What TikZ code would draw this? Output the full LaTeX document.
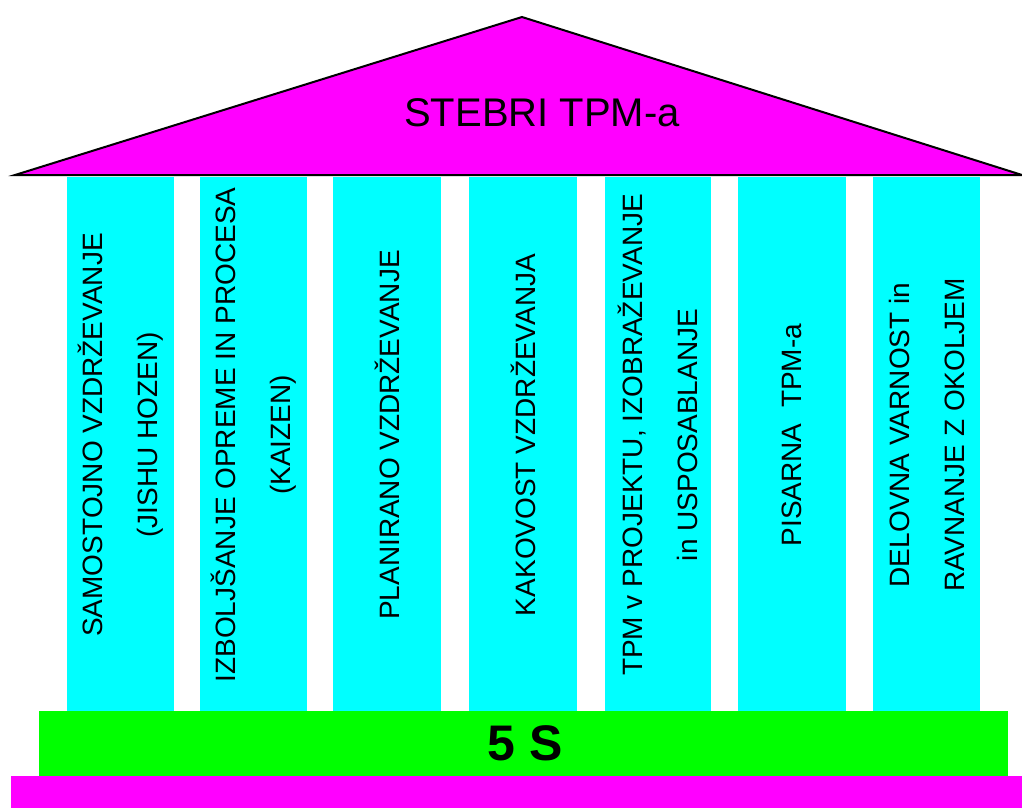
\documentclass[tikz,border=0pt]{standalone}
\usepackage{fontspec}
\setmainfont{Liberation Sans}
\definecolor{roofmag}{RGB}{255,0,255}
\definecolor{pillarcyan}{RGB}{0,255,255}
\definecolor{slabgreen}{RGB}{0,255,0}
\begin{document}
\begin{tikzpicture}[x=1pt,y=-1pt,
  pillar/.style={fill=pillarcyan, draw=none, inner sep=0pt, outer sep=0pt,
                 minimum width=#1, minimum height=534pt},
  pillar/.default=107pt,
  ptext/.style={rotate=90, align=center, inner sep=0pt,
                font=\fontsize{28}{55}\selectfont},
  slab/.style={draw=none, inner sep=0pt, outer sep=0pt}]
  \useasboundingbox (0,0) rectangle (1022,808);

  % roof
  \coordinate (rl) at (15,175);
  \coordinate (ra) at (522,17);
  \coordinate (rr) at (1022,175);
  \filldraw[fill=roofmag, draw=black, line width=2pt, line join=miter]
    (rl) -- (ra) -- (rr) -- cycle;
  \node[font=\fontsize{40}{48}\selectfont] (title) at (542,113) {STEBRI TPM-a};

  % pillars
  \node[pillar] (p1) at (120.5,444) {};
  \node[pillar] (p2) at (253.5,444) {};
  \node[pillar=108pt] (p3) at (387,444) {};
  \node[pillar=108pt] (p4) at (523,444) {};
  \node[pillar=106pt] (p5) at (658,444) {};
  \node[pillar=108pt] (p6) at (792,444) {};
  \node[pillar] (p7) at (926.5,444) {};

  \node[ptext] (t1) at (120.5,435) {SAMOSTOJNO VZDRŽEVANJE\\(JISHU HOZEN)};
  \node[ptext] (t2) at (253.5,435) {IZBOLJŠANJE OPREME IN PROCESA\\(KAIZEN)};
  \node[ptext] (t3) at (387,435) {PLANIRANO VZDRŽEVANJE};
  \node[ptext] (t4) at (523,435) {KAKOVOST VZDRŽEVANJA};
  \node[ptext] (t5) at (658,435) {TPM v PROJEKTU, IZOBRAŽEVANJE\\in USPOSABLANJE};
  \node[ptext] (t6) at (792,435) {PISARNA\ \ TPM-a};
  \node[ptext] (t7) at (926.5,435) {DELOVNA VARNOST in\\RAVNANJE Z OKOLJEM};

  % foundation
  \node[slab, fill=slabgreen, minimum width=969pt, minimum height=65pt] (fs) at (523.5,743.5) {};
  \node[font=\fontsize{50}{60}\selectfont\bfseries] (fivesl) at (525,743.5) {5 S};
  \node[slab, fill=roofmag, minimum width=1011pt, minimum height=32pt] (base) at (516.5,792) {};
\end{tikzpicture}
\end{document}
